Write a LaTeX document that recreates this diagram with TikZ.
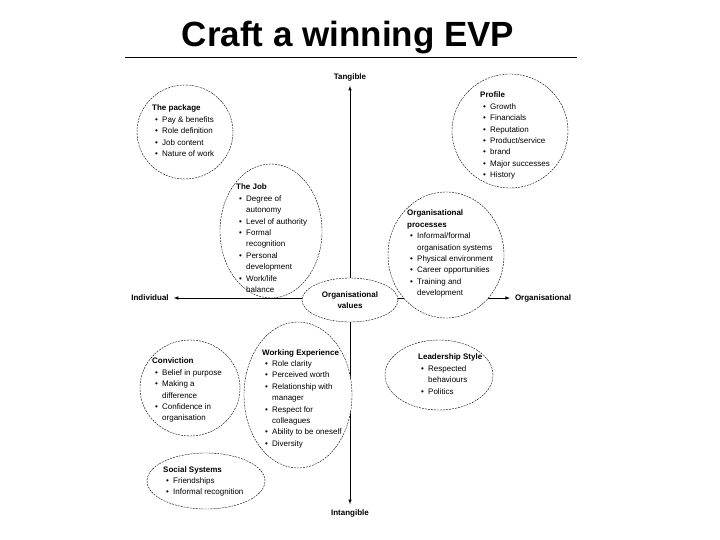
\documentclass[tikz,border=0pt]{standalone}
\usepackage{fontspec}
\setmainfont{Liberation Sans}
\usepackage{tikz}
\usetikzlibrary{shapes.geometric, arrows}

\newcommand{\itm}{\hspace*{3pt}\makebox[7pt][l]{\textbullet}}
\newcommand{\cnt}{\hspace*{10pt}}

\tikzset{
  bubble/.style={draw, color=black, ellipse, dash pattern=on 2pt off 1pt, line width=0.4pt, fill=white, inner sep=0pt},
  blurb/.style={anchor=north west, align=left, inner sep=0pt, font=\fontsize{8}{11.4}\selectfont},
  axlbl/.style={inner sep=0pt, outer sep=5pt, text height=6pt, text depth=1.6pt, font=\fontsize{8}{10}\selectfont\bfseries},
  axis/.style={<->, >=latex, color=black, line width=0.6pt}
}

\begin{document}
\begin{tikzpicture}[x=1pt, y=-1pt]
\useasboundingbox (0,0) rectangle (720,540);

\node[anchor=base, font=\fontsize{35}{40}\selectfont\bfseries] (title) at (348,47) {Craft a winning EVP};
\coordinate (rulel) at (125,57);
\coordinate (ruler) at (577,57);
\draw[color=black, line width=0.7pt] (rulel) -- (ruler);

\node[axlbl] (tang) at (350,77) {Tangible};
\node[axlbl] (intang) at (350,513) {Intangible};
\node[axlbl] (indiv) at (150,298) {Individual};
\node[axlbl] (orgn) at (543,298) {Organisational};
\draw[axis] (intang) -- (tang);
\draw[axis] (indiv) -- (orgn);

\node[bubble, minimum width=96, minimum height=94] (pkg) at (185,132) {};
\node[bubble, minimum width=116, minimum height=114] (prof) at (510,131) {};
\node[bubble, minimum width=102, minimum height=134] (job) at (271,231) {};
\node[bubble, minimum width=116, minimum height=126] (orgp) at (446,255) {};
\node[bubble, minimum width=96, minimum height=44] (vals) at (350,300) {};
\node[bubble, minimum width=100, minimum height=96] (conv) at (190,388) {};
\node[bubble, minimum width=108, minimum height=146] (work) at (298,395) {};
\node[bubble, minimum width=108, minimum height=70] (lead) at (439,375) {};
\node[bubble, minimum width=118, minimum height=56] (soc) at (206,481) {};

\node[blurb] (pkgtxt) at (152,105) {\textbf{The package}\\
  \itm Pay \& benefits\\ \itm Role definition\\ \itm Job content\\ \itm Nature of work};
\node[blurb] (proftxt) at (480,92) {\textbf{Profile}\\
  \itm Growth\\ \itm Financials\\ \itm Reputation\\ \itm Product/service\\
  \itm brand\\ \itm Major successes\\ \itm History};
\node[blurb] (jobtxt) at (236,184) {\textbf{The Job}\\
  \itm Degree of\\ \cnt autonomy\\ \itm Level of authority\\ \itm Formal\\
  \cnt recognition\\ \itm Personal\\ \cnt development\\ \itm Work/life\\ \cnt balance};
\node[blurb] (orgptxt) at (407,210) {\textbf{Organisational}\\ \textbf{processes}\\
  \itm Informal/formal\\ \cnt organisation systems\\ \itm Physical environment\\
  \itm Career opportunities\\ \itm Training and\\ \cnt development};
\node[align=center, inner sep=0pt, font=\fontsize{8}{11.4}\selectfont\bfseries] (valstxt) at (vals.center) {Organisational\\ values};
\node[blurb] (convtxt) at (152,358) {\textbf{Conviction}\\
  \itm Belief in purpose\\ \itm Making a\\ \cnt difference\\
  \itm Confidence in\\ \cnt organisation};
\node[blurb] (worktxt) at (262,349) {\textbf{Working Experience}\\
  \itm Role clarity\\ \itm Perceived worth\\ \itm Relationship with\\ \cnt manager\\
  \itm Respect for\\ \cnt colleagues\\ \itm Ability to be oneself\\ \itm Diversity};
\node[blurb] (leadtxt) at (418,354) {\textbf{Leadership Style}\\
  \itm Respected\\ \cnt behaviours\\ \itm Politics};
\node[blurb] (soctxt) at (163,466) {\textbf{Social Systems}\\
  \itm Friendships\\ \itm Informal recognition};
\end{tikzpicture}
\end{document}
